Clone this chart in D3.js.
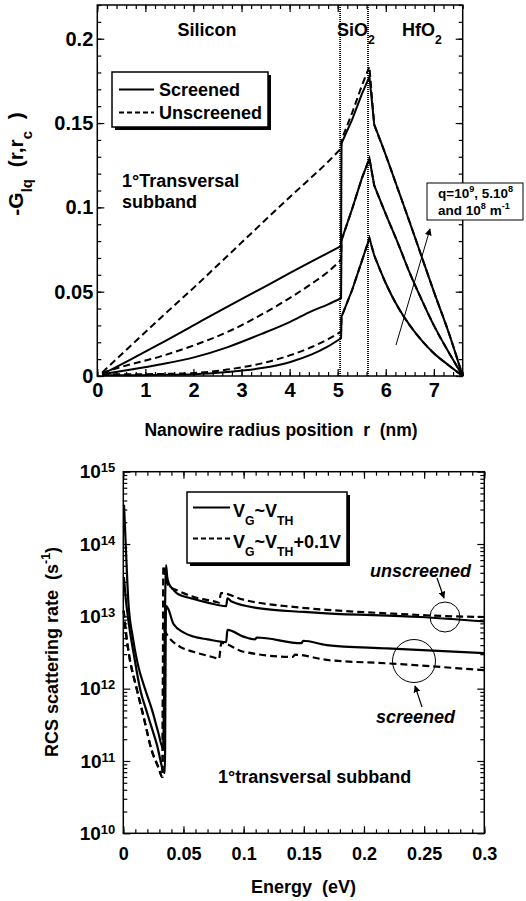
<!DOCTYPE html>
<html>
<head>
<meta charset="utf-8">
<script src="https://cdn.jsdelivr.net/npm/d3@7"></script>
<style>
  body { margin: 0; background: #fff; }
  svg { display: block; }
  text { white-space: pre; }
</style>
</head>
<body>
<svg id="fig" width="526" height="901"></svg>
<script>
// ---------- top panel data: -G_lq(r, r_c) vs radius ----------
const rTicksTop = [0, 1, 2, 3, 4, 5, 6, 7];
const gTicksTop = [0, 0.05, 0.1, 0.15, 0.2];
const interfaces = [5.05, 5.63];

// silicon core (r in nm)
const rSi = [0.1, 0.64, 1.3, 2.03, 2.7, 3.42, 4.0, 4.46, 4.8, 5.07];
const unscrQ1Si = [0.002, 0.0165, 0.034, 0.053, 0.071, 0.0905, 0.106, 0.118, 0.127, 0.135];
const scrQ1Si   = [0.001, 0.009, 0.019, 0.0305, 0.041, 0.052, 0.061, 0.068, 0.073, 0.077];
const unscrQ2Si = [0.002, 0.0065, 0.0115, 0.0184, 0.026, 0.0365, 0.0462, 0.0548, 0.0618, 0.0688];
const scrQ2Si   = [0.001, 0.0035, 0.0068, 0.0112, 0.017, 0.025, 0.032, 0.0385, 0.0425, 0.0461];
const unscrQ3Si = [0.001, 0.001, 0.0012, 0.0018, 0.0038, 0.0075, 0.0122, 0.0172, 0.0218, 0.0263];
const scrQ3Si   = [0.0005, 0.0005, 0.0007, 0.0011, 0.0024, 0.0047, 0.0082, 0.0128, 0.0176, 0.0224];

// SiO2 shell (rising part, up to the peak at the SiO2/HfO2 interface)
const rSiO2 = [5.08, 5.3, 5.5, 5.66];
const scrQ1SiO2   = [0.138, 0.152, 0.167, 0.1775];
const unscrQ1SiO2 = [0.140, 0.156, 0.172, 0.1835];
const q2SiO2      = [0.0806, 0.099, 0.117, 0.129];
const q3SiO2      = [0.0352, 0.051, 0.068, 0.0817];

// HfO2 shell (decay to the gate at 7.6 nm)
const rHfO2 = [5.76, 6.0, 6.25, 6.5, 6.75, 7.0, 7.3, 7.6];
const q1HfO2 = [0.149, 0.131, 0.111, 0.091, 0.0705, 0.05, 0.0265, 0];
const q2HfO2 = [0.113, 0.096, 0.079, 0.061, 0.045, 0.030, 0.0145, 0];
const q3HfO2 = [0.0715, 0.055, 0.041, 0.030, 0.021, 0.0135, 0.0065, 0];

// ---------- bottom panel data: RCS scattering rate vs energy ----------
const eTicksBottom = [0, 0.05, 0.1, 0.15, 0.2, 0.25, 0.3];
const rateTicksBottom = [1e10, 1e11, 1e12, 1e13, 1e14, 1e15];

// V_G ~ V_TH, unscreened (solid, upper)
const eA = [0.0006, 0.002, 0.0042, 0.008, 0.012, 0.018, 0.024, 0.029, 0.033, 0.0355, 0.0365, 0.038, 0.041, 0.0443,
            0.0584, 0.07, 0.0855, 0.0865, 0.09, 0.1136, 0.15, 0.169, 0.2467, 0.3];
const rateA = [3.5e14, 1.0e14, 1.6e13, 5.0e12, 2.2e12, 1.0e12, 5.0e11, 2.5e11, 1.5e11, 5.1e13, 3.5e13, 2.8e13, 2.4e13, 2.1e13,
               1.74e13, 1.55e13, 1.38e13, 1.78e13, 1.6e13, 1.29e13, 1.15e13, 1.1e13, 9.8e12, 8.5e12];
// V_G ~ V_TH, screened (solid, lower)
const eC = [0.0005, 0.0022, 0.005, 0.009, 0.0139, 0.02, 0.0277, 0.0345, 0.0355, 0.0374, 0.0416, 0.05, 0.0582, 0.07,
            0.0855, 0.0865, 0.0998, 0.1095, 0.111, 0.148, 0.1495, 0.169, 0.219, 0.3];
const rateC = [3.5e13, 1.66e13, 7.1e12, 2.8e12, 1.0e12, 4.5e11, 1.74e11, 6.8e10, 1.4e13, 1.26e13, 7.9e12, 6.0e12, 5.25e12, 4.8e12,
               4.4e12, 6.5e12, 5.25e12, 4.8e12, 5.1e12, 4.25e12, 4.6e12, 4.0e12, 3.6e12, 3.1e12];
// V_G ~ V_TH + 0.1 V (dashed), common low energy branch
const eDashLeft = [0.0003, 0.002, 0.005, 0.0111, 0.017, 0.0236, 0.029, 0.0325];
const rateDashLeft = [1.2e13, 6.3e12, 2.8e12, 1.0e12, 4.0e11, 1.4e11, 8.3e10, 6.0e10];
// dashed unscreened
const eB = [0.0333, 0.035, 0.038, 0.0444, 0.0582, 0.0776, 0.0795, 0.0812, 0.0998, 0.1413, 0.169, 0.219, 0.2743, 0.3];
const rateB = [5.0e13, 3.5e13, 2.6e13, 2.3e13, 1.86e13, 1.58e13, 1.55e13, 2.1e13, 1.7e13, 1.35e13, 1.23e13, 1.1e13, 1.0e13, 9.8e12];
// dashed screened
const eD = [0.0333, 0.0374, 0.0471, 0.0582, 0.0776, 0.0795, 0.0815, 0.0998, 0.141, 0.1425, 0.169, 0.219, 0.3];
const rateD = [6.5e12, 5.2e12, 3.8e12, 3.24e12, 2.63e12, 2.57e12, 4.3e12, 3.24e12, 2.75e12, 2.95e12, 2.5e12, 2.24e12, 1.8e12];

// ---------- helpers ----------
const FONT = '"Liberation Sans", Arial, Helvetica, sans-serif';
const svg = d3.select("#fig");
const zip = (xs, ys) => xs.map((v, i) => [v, ys[i]]);

svg.append("defs").append("marker")
  .attr("id", "head")
  .attr("viewBox", "0 0 10 10")
  .attr("refX", 9).attr("refY", 5)
  .attr("markerWidth", 7).attr("markerHeight", 7)
  .attr("markerUnits", "userSpaceOnUse")
  .attr("orient", "auto")
  .append("path").attr("d", "M0,0 L10,5 L0,10 z").attr("fill", "#000");

// text with sub/superscripts: parts = [[text, "n"|"sub"|"sup"], ...]
function rich(parent, x, y, parts, size, opts = {}) {
  const small = opts.small || size * 0.68;
  const t = parent.append("text")
    .attr("x", x).attr("y", y)
    .attr("font-family", FONT).attr("font-weight", "bold")
    .attr("font-size", size)
    .attr("font-style", opts.italic ? "italic" : null)
    .attr("text-anchor", opts.anchor || "start")
    .attr("transform", opts.rotate ? `rotate(-90,${x},${y})` : null);
  let shift = 0;
  parts.forEach(([s, k]) => {
    const target = k === "sub" ? size * 0.42 : k === "sup" ? -size * 0.42 : 0;
    t.append("tspan")
      .attr("dy", target - shift)
      .attr("font-size", k === "n" ? size : small)
      .text(s);
    shift = target;
  });
  return t;
}

function styleAxis(g, size) {
  g.select(".domain").remove();
  g.attr("font-family", FONT).attr("font-weight", "bold").attr("font-size", size);
  g.selectAll(".tick line").attr("stroke-width", 1.2);
}

// axes on all four sides with ticks pointing inward
function boxAxes(g, x, y, o) {
  const [y0, y1] = y.range();
  const [x0, x1] = x.range();
  g.append("g").attr("transform", `translate(0,${y0})`)
    .call(d3.axisBottom(x).tickValues(o.xMajor).tickSize(-7).tickPadding(o.xPad).tickFormat(o.xFmt))
    .call(s => styleAxis(s, o.xSize));
  g.append("g").attr("transform", `translate(0,${y0})`)
    .call(d3.axisBottom(x).tickValues(o.xMinor).tickSize(-4).tickFormat(""))
    .call(s => styleAxis(s, 10));
  g.append("g").attr("transform", `translate(0,${y1})`)
    .call(d3.axisTop(x).tickValues(o.xMajor).tickSize(-7).tickFormat(""))
    .call(s => styleAxis(s, 10));
  g.append("g").attr("transform", `translate(0,${y1})`)
    .call(d3.axisTop(x).tickValues(o.xMinor).tickSize(-4).tickFormat(""))
    .call(s => styleAxis(s, 10));
  const left = g.append("g").attr("transform", `translate(${x0},0)`)
    .call(d3.axisLeft(y).tickValues(o.yMajor).tickSize(-7).tickPadding(o.yPad).tickFormat(o.yFmt))
    .call(s => styleAxis(s, o.ySize));
  g.append("g").attr("transform", `translate(${x0},0)`)
    .call(d3.axisLeft(y).tickValues(o.yMinor).tickSize(-4).tickFormat(""))
    .call(s => styleAxis(s, 10));
  g.append("g").attr("transform", `translate(${x1},0)`)
    .call(d3.axisRight(y).tickValues(o.yMajor).tickSize(-7).tickFormat(""))
    .call(s => styleAxis(s, 10));
  g.append("g").attr("transform", `translate(${x1},0)`)
    .call(d3.axisRight(y).tickValues(o.yMinor).tickSize(-4).tickFormat(""))
    .call(s => styleAxis(s, 10));
  g.append("rect")
    .attr("x", x0).attr("y", y1).attr("width", x1 - x0).attr("height", y0 - y1)
    .attr("fill", "none").attr("stroke", "#000").attr("stroke-width", 1.5);
  return left;
}

function legendBox(g, x, y, w, h) {
  g.append("rect").attr("x", x + 3).attr("y", y + 3).attr("width", w).attr("height", h).attr("fill", "#000");
  g.append("rect").attr("x", x).attr("y", y).attr("width", w).attr("height", h)
    .attr("fill", "#fff").attr("stroke", "#000").attr("stroke-width", 1.5);
}

// ---------- top panel ----------
const topG = svg.append("g");
const xr = d3.scaleLinear().domain([0, 7.6]).range([97.3, 462.7]);
const yg = d3.scaleLinear().domain([0, 0.22]).range([376, 5]);

const smoothTop = d3.line().x(d => xr(d[0])).y(d => yg(d[1])).curve(d3.curveMonotoneX);
const straightTop = d3.line().x(d => xr(d[0])).y(d => yg(d[1]));
// silicon part smooth, SiO2 part straight, HfO2 part smooth, joined into one path
const joinTop = (si, ox, hf) =>
  smoothTop(si) + straightTop(ox).replace(/^M/, "L") + smoothTop(hf).replace(/^M/, "L");

const topSeries = [
  { d: joinTop(zip(rSi, unscrQ3Si), zip(rSiO2, q3SiO2), zip(rHfO2, q3HfO2)), dash: "7,4" },
  { d: joinTop(zip(rSi, unscrQ2Si), zip(rSiO2, q2SiO2), zip(rHfO2, q2HfO2)), dash: "7,4" },
  { d: joinTop(zip(rSi, unscrQ1Si), zip(rSiO2, unscrQ1SiO2), zip(rHfO2, q1HfO2)), dash: "7,4" },
  { d: joinTop(zip(rSi, scrQ3Si), zip(rSiO2, q3SiO2), zip(rHfO2, q3HfO2)), dash: null },
  { d: joinTop(zip(rSi, scrQ2Si), zip(rSiO2, q2SiO2), zip(rHfO2, q2HfO2)), dash: null },
  { d: joinTop(zip(rSi, scrQ1Si), zip(rSiO2, scrQ1SiO2), zip(rHfO2, q1HfO2)), dash: null }
];

topG.selectAll("line.iface").data(interfaces).join("line")
  .attr("class", "iface")
  .attr("x1", d => xr(d)).attr("x2", d => xr(d))
  .attr("y1", yg.range()[0]).attr("y2", yg.range()[1])
  .attr("stroke", "#000").attr("stroke-width", 1.8).attr("stroke-dasharray", "1,1");

topG.selectAll("path.curve").data(topSeries).join("path")
  .attr("class", "curve")
  .attr("d", d => d.d)
  .attr("fill", "none").attr("stroke", "#000").attr("stroke-width", 2)
  .attr("stroke-dasharray", d => d.dash);

boxAxes(topG, xr, yg, {
  xMajor: rTicksTop, xMinor: d3.range(0, 7.61, 0.2), xFmt: d3.format("d"), xPad: 7, xSize: 20,
  yMajor: gTicksTop, yMinor: d3.range(0, 0.2201, 0.01), yFmt: d => d === 0 ? "0" : String(d), yPad: 4, ySize: 20
});

rich(topG, 207, 36, [["Silicon", "n"]], 18, { anchor: "middle" });
rich(topG, 337, 36, [["SiO", "n"], ["2", "sub"]], 18);
rich(topG, 402, 36, [["HfO", "n"], ["2", "sub"]], 18);

legendBox(topG, 112, 72, 156, 55);
topG.append("line").attr("x1", 119).attr("x2", 154).attr("y1", 89.5).attr("y2", 89.5)
  .attr("stroke", "#000").attr("stroke-width", 2);
topG.append("line").attr("x1", 119).attr("x2", 154).attr("y1", 112.5).attr("y2", 112.5)
  .attr("stroke", "#000").attr("stroke-width", 2).attr("stroke-dasharray", "5,3");
rich(topG, 159, 95.5, [["Screened", "n"]], 18);
rich(topG, 159, 118.5, [["Unscreened", "n"]], 18);

rich(topG, 122, 187, [["1°Transversal", "n"]], 18);
rich(topG, 122, 208, [["subband", "n"]], 18);

topG.append("rect").attr("x", 427).attr("y", 183).attr("width", 96).attr("height", 37)
  .attr("fill", "#fff").attr("stroke", "#000").attr("stroke-width", 1);
rich(topG, 438, 198, [["q=10", "n"], ["9", "sup"], [", 5.10", "n"], ["8", "sup"]], 13.5);
rich(topG, 438, 215, [["and 10", "n"], ["8", "sup"], [" m", "n"], ["-1", "sup"]], 13.5);
topG.append("line").attr("x1", 396).attr("y1", 345).attr("x2", 430).attr("y2", 229)
  .attr("stroke", "#000").attr("stroke-width", 1).attr("marker-end", "url(#head)");

rich(topG, 23, 164, [["-G", "n"], ["lq", "sub"], ["  (r,r", "n"], ["c", "sub"], ["  )", "n"]], 21,
  { anchor: "middle", rotate: true, small: 15 });
rich(topG, 281, 436, [["Nanowire radius position  r  (nm)", "n"]], 17.5, { anchor: "middle" });

// ---------- bottom panel ----------
const botG = svg.append("g");
const xe = d3.scaleLinear().domain([0, 0.3]).range([123.3, 484.3]);
const yl = d3.scaleLog().domain([1e10, 1e15]).range([833.3, 471.7]);
const lineBot = d3.line().x(d => xe(d[0])).y(d => yl(d[1])).curve(d3.curveMonotoneX);

const botSeries = [
  { pts: zip(eDashLeft, rateDashLeft).concat(zip(eD, rateD)), dash: "7,4" },
  { pts: zip(eDashLeft, rateDashLeft).concat(zip(eB, rateB)), dash: "7,4" },
  { pts: zip(eC, rateC), dash: null },
  { pts: zip(eA, rateA), dash: null }
];
botG.selectAll("path.curve").data(botSeries).join("path")
  .attr("class", "curve")
  .attr("d", d => lineBot(d.pts))
  .attr("fill", "none").attr("stroke", "#000").attr("stroke-width", 2.2)
  .attr("stroke-dasharray", d => d.dash);

const logMinor = [];
for (let k = 10; k < 15; k++) for (let m = 2; m <= 9; m++) logMinor.push(m * Math.pow(10, k));

const leftAx = boxAxes(botG, xe, yl, {
  xMajor: eTicksBottom, xMinor: d3.range(0, 0.3001, 0.01), xFmt: d => d === 0 ? "0" : String(d), xPad: 14, xSize: 18,
  yMajor: rateTicksBottom, yMinor: logMinor, yFmt: () => "10", yPad: 8, ySize: 19
});
leftAx.selectAll(".tick text").each(function (d) {
  d3.select(this).append("tspan").attr("dy", "-0.45em").attr("font-size", 13)
    .text(Math.round(Math.log10(d)));
});

legendBox(botG, 187, 492, 160, 71);
botG.append("line").attr("x1", 193).attr("x2", 230).attr("y1", 507.5).attr("y2", 507.5)
  .attr("stroke", "#000").attr("stroke-width", 2);
botG.append("line").attr("x1", 193).attr("x2", 230).attr("y1", 538.5).attr("y2", 538.5)
  .attr("stroke", "#000").attr("stroke-width", 2).attr("stroke-dasharray", "5,3");
rich(botG, 233, 517, [["V", "n"], ["G", "sub"], ["~V", "n"], ["TH", "sub"]], 18);
rich(botG, 233, 548, [["V", "n"], ["G", "sub"], ["~V", "n"], ["TH", "sub"], ["+0.1V", "n"]], 18);

rich(botG, 370, 577, [["unscreened", "n"]], 18, { italic: true });
rich(botG, 376, 723, [["screened", "n"]], 18, { italic: true });
rich(botG, 218, 783, [["1°transversal subband", "n"]], 18);

botG.append("circle").attr("cx", 445).attr("cy", 617).attr("r", 15)
  .attr("fill", "none").attr("stroke", "#000").attr("stroke-width", 1);
botG.append("circle").attr("cx", 414).attr("cy", 661).attr("r", 21.5)
  .attr("fill", "none").attr("stroke", "#000").attr("stroke-width", 1);
botG.append("line").attr("x1", 437).attr("y1", 578).attr("x2", 444).attr("y2", 598)
  .attr("stroke", "#000").attr("stroke-width", 1.2).attr("marker-end", "url(#head)");
botG.append("line").attr("x1", 422).attr("y1", 707).attr("x2", 415).attr("y2", 686)
  .attr("stroke", "#000").attr("stroke-width", 1.2).attr("marker-end", "url(#head)");

rich(botG, 58, 652, [["RCS scattering rate  (s", "n"], ["-1", "sup"], [")", "n"]], 18, { anchor: "middle", rotate: true });
rich(botG, 303.5, 893, [["Energy  (eV)", "n"]], 18, { anchor: "middle" });
</script>
</body>
</html>
